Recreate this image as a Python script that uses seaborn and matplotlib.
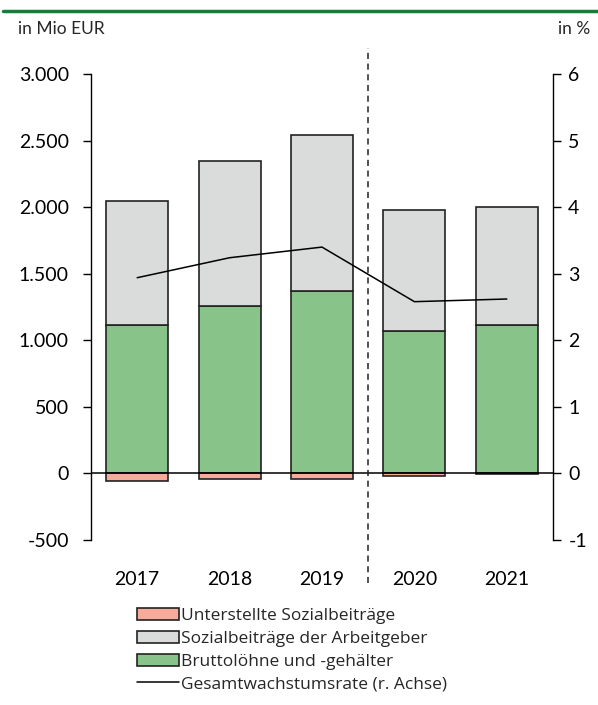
import matplotlib.pyplot as plt
import seaborn as sns
import pandas as pd
import numpy as np

# === Data ===
years = ["2017", "2018", "2019", "2020", "2021"]
brutto = [1117, 1260, 1372, 1072, 1117]          # Bruttolöhne und -gehälter
sozial_ag = [931, 1088, 1171, 908, 886]          # Sozialbeiträge der Arbeitgeber
unterstellt = [-60, -45, -45, -22, -8]            # Unterstellte Sozialbeiträge
wachstum = [2.94, 3.24, 3.40, 2.58, 2.62]         # Gesamtwachstumsrate (%)

df = pd.DataFrame({"year": years, "brutto": brutto, "sozial": sozial_ag,
                   "unterstellt": unterstellt, "rate": wachstum})

c_pink = "#F8AA9B"
c_grey = "#D9DCDB"
c_green = "#88C48A"
c_edge = "#222222"

sns.set_theme(style="white")
plt.rcParams["font.family"] = ["Lato", "DejaVu Sans"]
plt.rcParams["axes.unicode_minus"] = False

fig = plt.figure(figsize=(5.98, 7.05), dpi=100)
ax = fig.add_axes([91 / 598, 1 - 540 / 705, (553 - 91) / 598, (540 - 74) / 705])

bar_kw = dict(width=0.67, edgecolor=c_edge, linewidth=1.2, ax=ax, order=years, saturation=1)
sns.barplot(data=df, x="year", y="brutto", color=c_green, label="Bruttolöhne und -gehälter", **bar_kw)
sns.barplot(data=df, x="year", y="sozial", bottom=df["brutto"], color=c_grey,
            label="Sozialbeiträge der Arbeitgeber", **bar_kw)
sns.barplot(data=df, x="year", y="unterstellt", color=c_pink, label="Unterstellte Sozialbeiträge", **bar_kw)

ax.axhline(0, color="black", lw=1.1, zorder=3)
ax.set_xlim(-0.5, 4.5)
ax.set_ylim(-500, 3000)
ax.set_yticks(np.arange(-500, 3001, 500))
ax.set_yticklabels([f"{v:,}".replace(",", ".") for v in range(-500, 3001, 500)])
ax.set_xlabel("")
ax.set_ylabel("")
for s in ["top", "bottom", "right"]:
    ax.spines[s].set_visible(False)
ax.spines["left"].set_color("black")
ax.spines["left"].set_linewidth(1.0)
ax.tick_params(axis="y", which="both", left=True, length=6, width=1.0, pad=10,
               labelsize=14, colors="black")
ax.tick_params(axis="x", bottom=False, pad=16, labelsize=14, colors="black")
if ax.get_legend():
    ax.get_legend().remove()

# dashed separator between 2019 and 2020
ax.axvline(2.5, ymin=-0.092, ymax=1.055, clip_on=False, color="#222222",
           lw=1.1, ls=(0, (4, 3)), zorder=4)

# === Right axis: growth rate ===
ax2 = ax.twinx()
sns.lineplot(x=np.arange(len(years)), y=df["rate"], color="black", lw=1.1, ax=ax2,
             label="Gesamtwachstumsrate (r. Achse)")
ax2.set_ylim(-1, 6)
ax2.set_xlim(-0.5, 4.5)
ax2.set_yticks(range(-1, 7))
ax2.set_ylabel("")
for s in ["top", "bottom", "left"]:
    ax2.spines[s].set_visible(False)
ax2.spines["right"].set_color("black")
ax2.spines["right"].set_linewidth(1.0)
ax2.tick_params(axis="y", right=True, length=6, width=1.0, pad=5, labelsize=14, colors="black")
if ax2.get_legend():
    ax2.get_legend().remove()

# === Header ===
fig.add_artist(plt.Line2D([3 / 598, 1], [1 - 11 / 705] * 2, color="#1F7A3A", lw=2.5))
fig.text(18 / 598, 1 - 29 / 705, "in Mio EUR", fontsize=12.5, va="center", ha="left")
fig.text(590 / 598, 1 - 29 / 705, "in %", fontsize=12.5, va="center", ha="right")

# === Legend ===
h1, l1 = ax.get_legend_handles_labels()
h2, l2 = ax2.get_legend_handles_labels()
hmap = dict(zip(l1 + l2, h1 + h2))
order = ["Unterstellte Sozialbeiträge", "Sozialbeiträge der Arbeitgeber",
         "Bruttolöhne und -gehälter", "Gesamtwachstumsrate (r. Achse)"]
leg = fig.legend([hmap[k] for k in order], order, loc="upper left",
                 bbox_to_anchor=(137 / 598, 1 - 608 / 705), frameon=False,
                 prop={"family": ["Open Sans", "DejaVu Sans"], "size": 12.5},
                 handlelength=2.4, handletextpad=0.12,
                 labelspacing=0.38, borderpad=0, borderaxespad=0)

fig.savefig("out.png", dpi=100)
